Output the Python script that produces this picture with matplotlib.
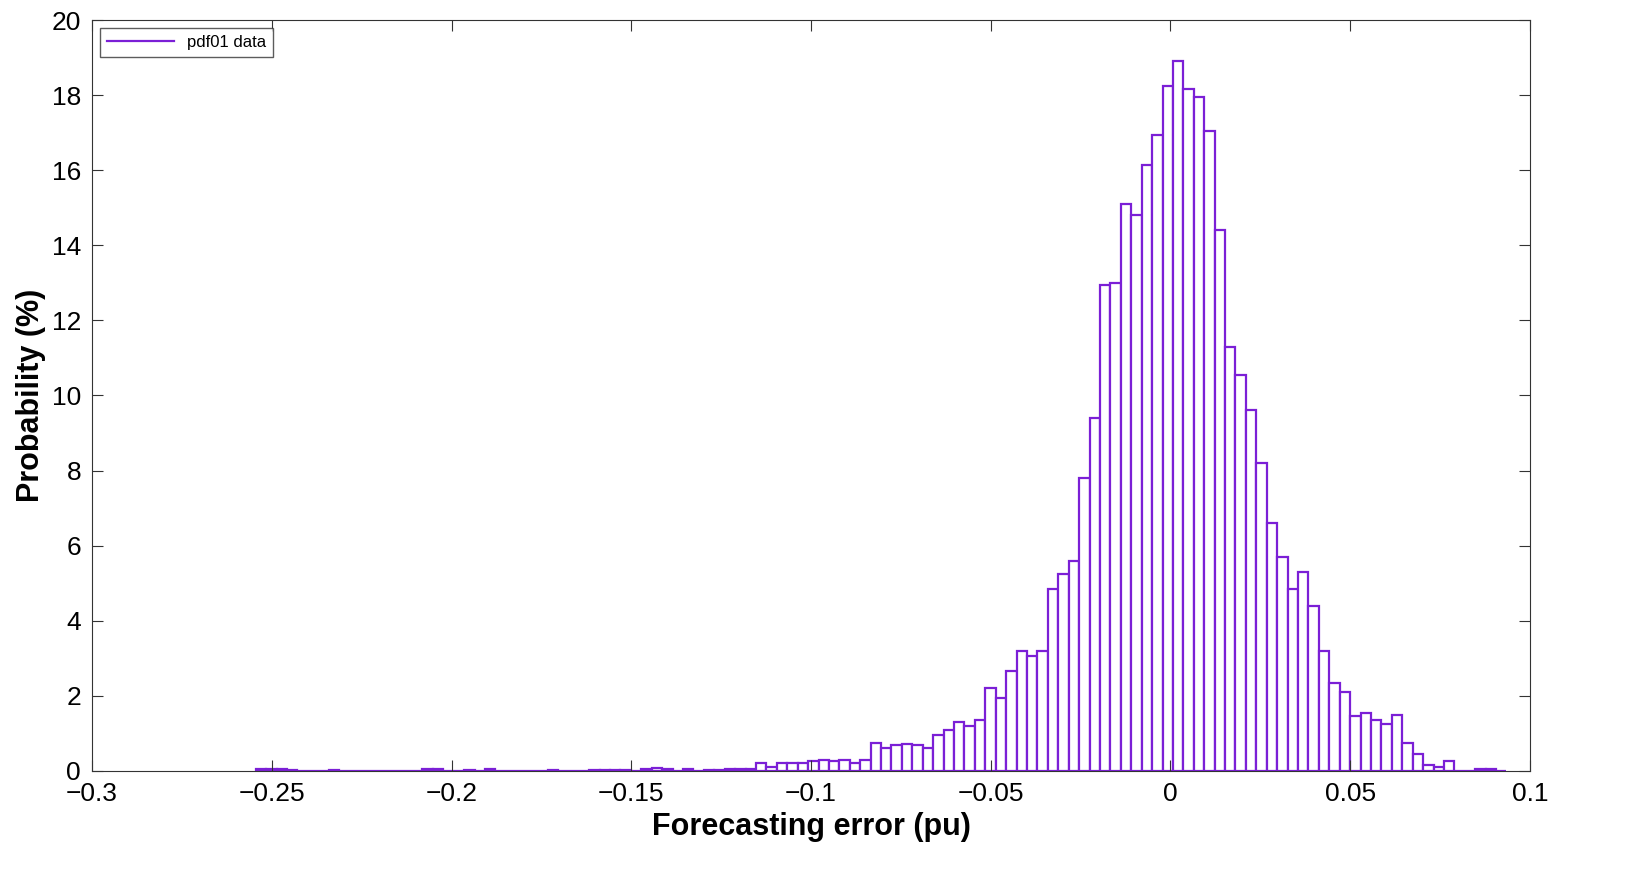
import numpy as np
import matplotlib.pyplot as plt
from matplotlib.lines import Line2D

plt.rcParams["font.family"] = ["Liberation Sans", "DejaVu Sans"]

# histogram of forecasting error, 120 bins of width 0.0029 from -0.2545
BIN_START = -0.2545
BIN_W = 0.0029
N_BINS = 120

tail = [0.04, 0.04, 0.04, 0.03, 0.0, 0.0, 0.0, 0.02, 0.0, 0.0,
        0.0, 0.0, 0.0, 0.0, 0.0, 0.0, 0.05, 0.04, 0.0, 0.0,
        0.03, 0.0, 0.04, 0.0, 0.0, 0.0, 0.0, 0.0, 0.02, 0.0,
        0.0, 0.0, 0.03, 0.02, 0.03, 0.03, 0.0, 0.04, 0.08, 0.05,
        0.0, 0.04, 0.0, 0.03, 0.03, 0.05, 0.05, 0.05]
body = [0.2, 0.1, 0.2, 0.2, 0.2, 0.25, 0.3, 0.25, 0.3, 0.2, 0.3,
        0.75, 0.6, 0.7, 0.72, 0.68, 0.62, 0.95, 1.1, 1.3, 1.2, 1.35,
        2.2, 1.95, 2.65, 3.2, 3.05, 3.2, 4.85, 5.25, 5.6, 7.8, 9.4,
        12.95, 13.0, 15.1, 14.8, 16.15, 16.95, 18.25, 18.9, 18.15, 17.95,
        17.05, 14.4, 11.3, 10.55, 9.6, 8.2, 6.6, 5.7, 4.85, 5.3, 4.4,
        3.2, 2.35, 2.1, 1.45, 1.55, 1.35, 1.25, 1.5, 0.75, 0.45, 0.15,
        0.1, 0.25, 0.0, 0.0, 0.05, 0.05, 0.0]
heights = (tail + body)[:N_BINS]

edges = BIN_START + BIN_W * np.arange(len(heights) + 1)

color = "#7b1fd6"
fig, ax = plt.subplots(figsize=(16.45, 8.71), dpi=100)
ax.bar(edges[:-1], heights, width=BIN_W, align="edge", facecolor="white",
       edgecolor=color, linewidth=1.6)

ax.set_xlim(-0.3, 0.1)
ax.set_ylim(0, 20)
ax.set_xticks(np.arange(-0.3, 0.101, 0.05))
ax.set_xticklabels(["\u22120.3", "\u22120.25", "\u22120.2", "\u22120.15", "\u22120.1",
                    "\u22120.05", "0", "0.05", "0.1"])
ax.set_yticks(range(0, 21, 2))
ax.tick_params(labelsize=19, direction="in", top=True, right=True, length=8,
               color="#333", pad=8)
for s in ax.spines.values():
    s.set_color("#333")
ax.set_xlabel("Forecasting error (pu)", fontsize=22, fontweight="bold")
ax.set_ylabel("Probability (%)", fontsize=22, fontweight="bold")

ax.legend(handles=[Line2D([0], [0], color=color, lw=1.6, label="pdf01 data")],
          loc="upper left", fontsize=12, fancybox=False, edgecolor="#333",
          handlelength=4)

fig.subplots_adjust(left=0.056, right=0.93, top=0.977, bottom=0.115)
fig.savefig("out.png")
